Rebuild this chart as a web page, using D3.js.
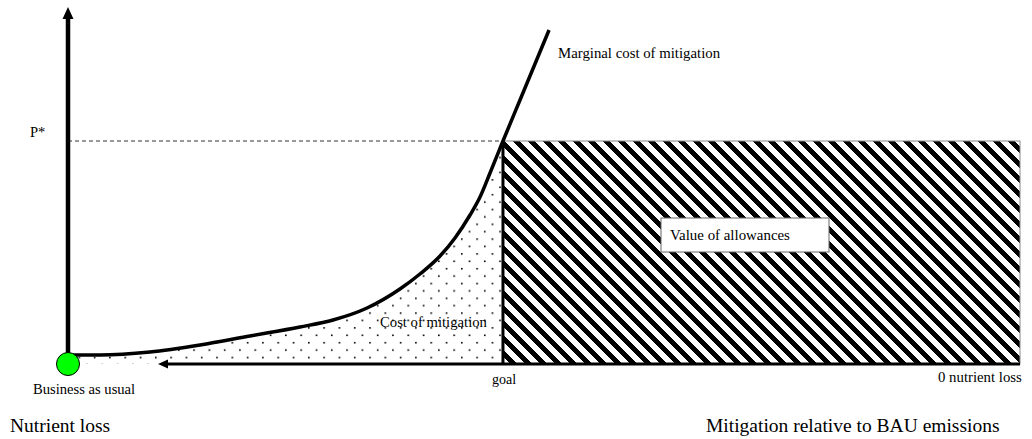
<!DOCTYPE html>
<html>
<head>
<meta charset="utf-8">
<script src="https://cdn.jsdelivr.net/npm/d3@7/dist/d3.min.js"></script>
<style>
  html, body { margin: 0; padding: 0; background: #fff; }
  svg { display: block; font-family: "Liberation Serif", "Times New Roman", serif; }
</style>
</head>
<body>
<svg id="chart" width="1032" height="439"></svg>
<script>
// ---- data (mitigation relative to BAU, marginal cost) ----
const mitigation   = [0, 3.36, 8.61, 13.87, 19.12, 24.37, 27.84, 31.41, 34.87, 36.97, 39.08, 40.65, 42.23, 43.28, 44.33, 45.69, 47.48, 50.53];
const marginalCost = [2.57, 2.57, 3.43, 5.43, 8.0, 10.57, 12.57, 16.0, 21.43, 25.71, 30.86, 36.0, 42.57, 47.71, 54.57, 63.71, 75.43, 95.43];
const goal = 45.69;         // mitigation goal
const pStar = 63.71;        // allowance price P*
const zeroLoss = 100;       // 0 nutrient loss
const labels = {
  pstar: "P*",
  mcm: "Marginal cost of mitigation",
  bau: "Business as usual",
  nutrient: "Nutrient loss",
  mitig: "Mitigation relative to BAU emissions",
  goal: "goal",
  zero: "0 nutrient loss",
  cost: "Cost of mitigation",
  value: "Value of allowances"
};

const svg = d3.select("#chart");
const x = d3.scaleLinear().domain([0, 100]).range([68, 1020]);
const y = d3.scaleLinear().domain([0, 100]).range([364, 14]);

const pts = mitigation.map((m, i) => ({ m, c: marginalCost[i] }));
const curve = d3.curveMonotoneX;

// patterns
const defs = svg.append("defs");
const dots = defs.append("pattern").attr("id", "dots")
  .attr("patternUnits", "userSpaceOnUse").attr("width", 15.3).attr("height", 14.8)
  .attr("x", 2).attr("y", 1.5);
dots.append("rect").attr("width", 15.3).attr("height", 14.8).attr("fill", "#fff");
dots.append("rect").attr("x", 0).attr("y", 0).attr("width", 1.6).attr("height", 1.6).attr("fill", "#000");
dots.append("rect").attr("x", 7.65).attr("y", 7.4).attr("width", 1.6).attr("height", 1.6).attr("fill", "#000");

const P = 15;
const hatch = defs.append("pattern").attr("id", "hatch")
  .attr("patternUnits", "userSpaceOnUse").attr("width", P).attr("height", P);
hatch.append("rect").attr("width", P).attr("height", P).attr("fill", "#fff");
hatch.append("path")
  .attr("d", `M${-P/2},${P/2} L${P/2},${P*1.5} M0,0 L${P},${P} M${P/2},${-P/2} L${P*1.5},${P/2}`)
  .attr("stroke", "#000").attr("stroke-width", 4.4).attr("shape-rendering", "crispEdges");

// dotted area: cost of mitigation
const under = pts.filter(d => d.m <= goal);
const area = d3.area().x(d => x(d.m)).y0(y(0)).y1(d => y(d.c)).curve(curve);
svg.append("path").datum(under).attr("d", area).attr("fill", "url(#dots)");

// hatched rect: value of allowances
svg.append("rect")
  .attr("x", x(goal)).attr("y", y(pStar))
  .attr("width", x(zeroLoss) - x(goal)).attr("height", y(0) - y(pStar))
  .attr("fill", "url(#hatch)").attr("stroke", "#888").attr("stroke-width", 1);
svg.append("line")
  .attr("x1", x(goal)).attr("x2", x(goal)).attr("y1", y(pStar)).attr("y2", y(0))
  .attr("stroke", "#000").attr("stroke-width", 3);

// P* dashed line
svg.append("line")
  .attr("x1", x(0)).attr("x2", x(goal)).attr("y1", y(pStar)).attr("y2", y(pStar))
  .attr("stroke", "#333").attr("stroke-width", 1).attr("stroke-dasharray", "4,3");

// vertical axis with arrow
svg.append("line")
  .attr("x1", x(0)).attr("x2", x(0)).attr("y1", y(0)).attr("y2", 18)
  .attr("stroke", "#000").attr("stroke-width", 4.5);
svg.append("path")
  .attr("d", `M${x(0)},7 L${x(0)-5.5},19 L${x(0)+5.5},19 Z`).attr("fill", "#000");

// horizontal arrow (pointing left)
svg.append("line")
  .attr("x1", x(zeroLoss)).attr("x2", 165).attr("y1", y(0)).attr("y2", y(0))
  .attr("stroke", "#000").attr("stroke-width", 3);
svg.append("path")
  .attr("d", `M158,${y(0)} L168,${y(0)-4.5} L168,${y(0)+4.5} Z`).attr("fill", "#000");

// marginal cost curve
const line = d3.line().x(d => x(d.m)).y(d => y(d.c)).curve(curve);
svg.append("path").datum(pts).attr("d", line)
  .attr("fill", "none").attr("stroke", "#000").attr("stroke-width", 3.5)
  .attr("stroke-linecap", "butt");

// BAU point
svg.append("circle").attr("cx", x(0)).attr("cy", y(0)).attr("r", 11.5)
  .attr("fill", "#00ff00").attr("stroke", "#000").attr("stroke-width", 1);

// value of allowances box
svg.append("rect").attr("x", 661).attr("y", 218).attr("width", 168).attr("height", 34)
  .attr("fill", "#fff").attr("stroke", "#666").attr("stroke-width", 1);

// texts
const txt = (t, xx, yy, size) => svg.append("text").attr("x", xx).attr("y", yy)
  .attr("font-size", size).attr("fill", "#000").text(t);
txt(labels.pstar, 30, 137, 14.5);
txt(labels.mcm, 558, 58, 14.8);
txt(labels.bau, 33, 394, 14.6);
txt(labels.nutrient, 10, 432, 19.5);
txt(labels.mitig, 706, 432, 19.5);
txt(labels.goal, 492, 384, 14);
txt(labels.zero, 938, 382, 14.8);
txt(labels.cost, 380, 327, 14.7);
txt(labels.value, 670, 240, 14.9);
</script>
</body>
</html>
